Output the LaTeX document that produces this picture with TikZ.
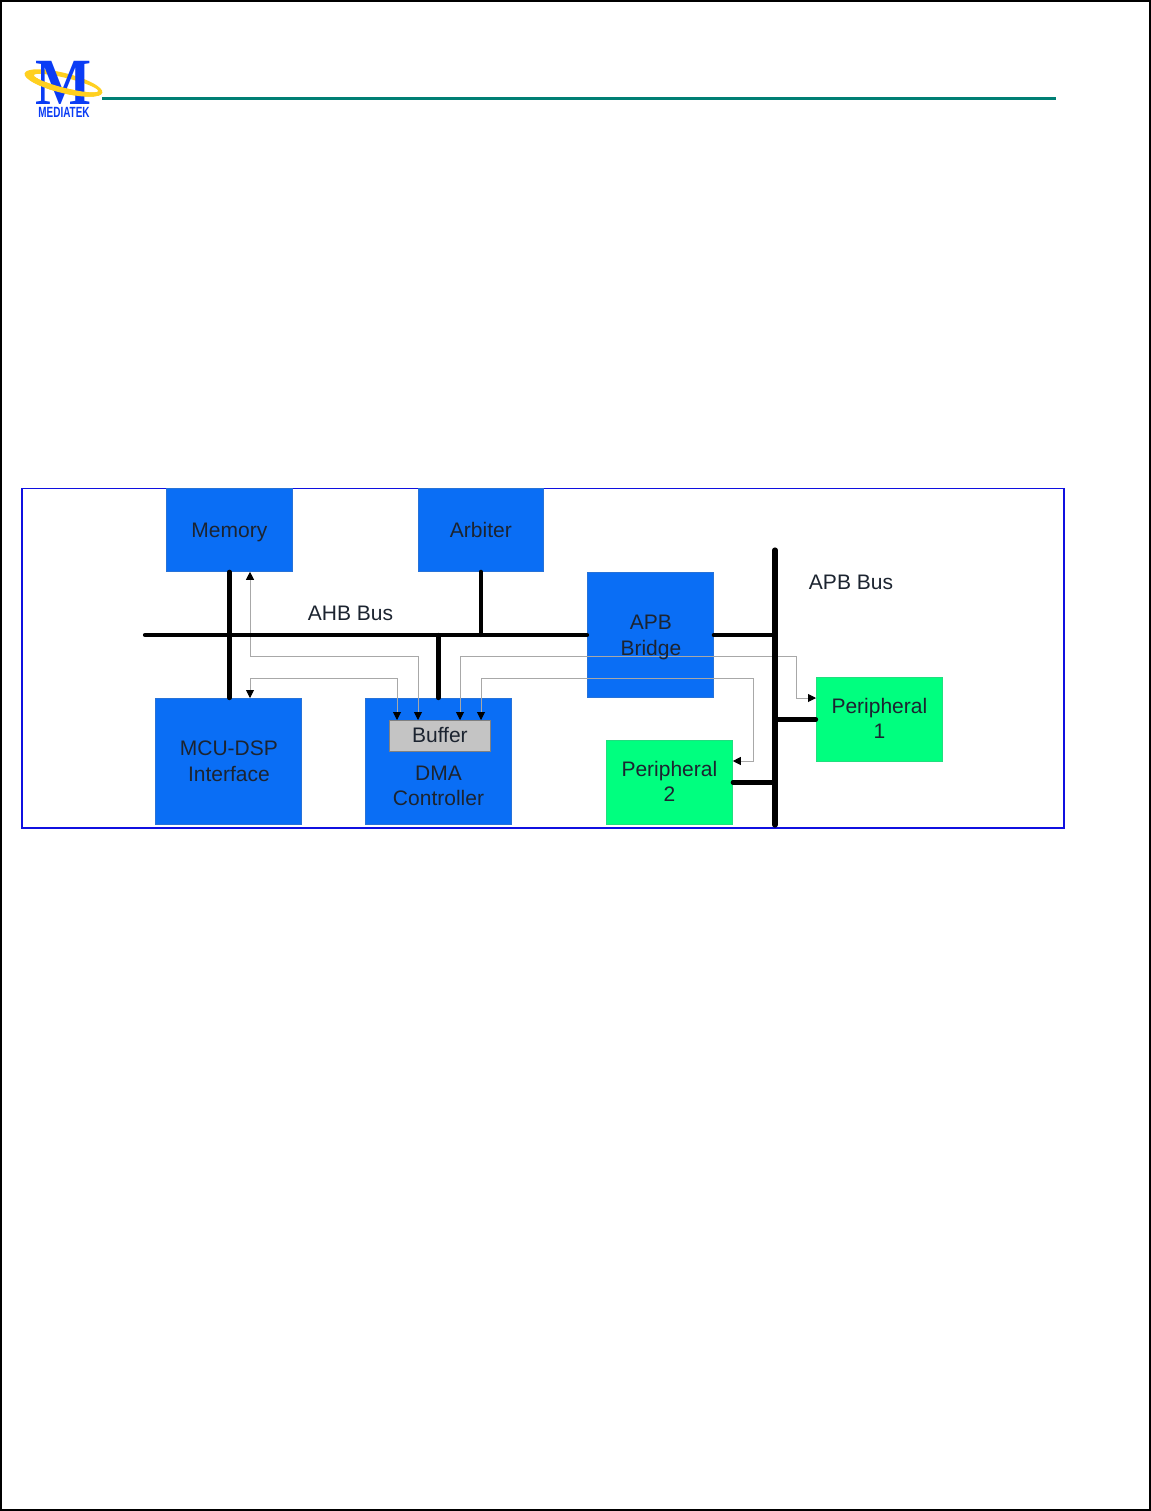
\documentclass[tikz,border=0pt]{standalone}
\usepackage{fontspec}
\usepackage{graphicx}
\setmainfont{Liberation Sans}
\newfontfamily\logoserif{Liberation Serif}
\usetikzlibrary{arrows.meta,calc}
\definecolor{boxblue}{HTML}{0A6EF5}
\definecolor{boxgreen}{HTML}{00FF7F}
\definecolor{bufgray}{HTML}{C4C4C4}
\definecolor{teal2}{HTML}{007F74}
\definecolor{framebl}{HTML}{1010E0}
\definecolor{logobl}{HTML}{0A3CF5}
\definecolor{logoye}{HTML}{FFD020}
\definecolor{thinl}{HTML}{A8A8A8}
\definecolor{txt}{HTML}{1C2430}
\tikzset{
  x=0.5pt,y=-0.5pt,
  block/.style={draw=#1!75!gray,line width=0.4pt,fill=#1,inner sep=0pt,anchor=north west,align=center,text=txt,font=\fontsize{10.5}{12.7}\selectfont},
  label/.style={text=txt,font=\fontsize{10.5}{12.7}\selectfont,inner sep=0pt},
  bus/.style={line width=2.1pt,black,line cap=round},
  apb/.style={line width=2.6pt,black,line cap=round},
  sig/.style={line width=0.45pt,draw=thinl,-{Triangle[length=4pt,width=4pt,color=black]}},
  sigboth/.style={line width=0.45pt,draw=thinl,{Triangle[length=4pt,width=4pt,color=black]}-{Triangle[length=4pt,width=4pt,color=black]}},
  ring/.style={fill=logoye,even odd rule}
}
\newcommand{\blk}[7]{\node[block=#2,minimum width=#5*0.5pt-0.5pt,minimum height=#6*0.5pt-0.5pt] (#1) at (#3,#4) {#7};}
\newcommand{\ringpath}{\fill[ring] (63.5,83) ellipse [x radius=40,y radius=10] (66,82.5) ellipse [x radius=33,y radius=5];}
\begin{document}
\begin{tikzpicture}
\useasboundingbox (0,0) rectangle (1151,1511);
\fill[white] (0,0) rectangle (1151,1511);
\draw[black,line width=1pt] (1,1) rectangle (1150,1510);
% logo
\begin{scope}[rotate around={-14:(63.5,83)}]
\ringpath
\end{scope}
\node[inner sep=0pt,text=logobl] (logoM) at (63.5,82.5) {\logoserif\fontsize{33}{33}\selectfont\bfseries\scalebox{0.9}[1]{M}};
\begin{scope}[rotate around={-14:(63.5,83)}]
\clip (15,84) rectangle (112,100);
\ringpath
\end{scope}
\node[inner sep=0pt,text=logobl] (logoT) at (64,112) {\bfseries\fontsize{7.4}{8}\selectfont\scalebox{0.67}[1]{MEDIATEK}};
\coordinate (ruleL) at (102,98.5);
\coordinate (ruleR) at (1056,98.5);
\draw[teal2,line width=1.5pt] (ruleL) -- (ruleR);
% frame
\draw[framebl,line width=0.6pt] (22,488.5) rectangle (1064,828);
% blocks
\blk{mem}{boxblue}{166}{488}{127}{84}{}
\blk{arb}{boxblue}{418}{488}{126}{84}{}
\blk{bri}{boxblue}{587}{572}{127}{126}{}
\blk{mcu}{boxblue}{155}{698}{147}{127}{}
\blk{dma}{boxblue}{365}{698}{147}{127}{}
\blk{pa}{boxgreen}{816}{677}{127}{85}{}
\blk{pb}{boxgreen}{606}{740}{127}{85}{}
\node[block=bufgray,minimum width=50.5pt,minimum height=15.5pt,draw=gray] (buf) at (389,720) {};
% bus anchor coordinates
\coordinate (ahbL) at (145,635);
\coordinate (apbT) at (775,550);
\coordinate (apbB) at (775,825);
\coordinate (xA) at (250,600);
\coordinate (xB) at (397,600);
\coordinate (xC) at (418,600);
\coordinate (xD) at (460,600);
\coordinate (xE) at (481,600);
\coordinate (yA) at (600,656.5);
\coordinate (yB) at (600,678);
\coordinate (xF) at (796,600);
\coordinate (xG) at (753,600);
\coordinate (yC) at (600,698);
\coordinate (yD) at (600,761);
% thin signal lines
\draw[sigboth] (mem.south -| xA) -- (xA |- yA) -- (xC |- yA) -- (buf.north -| xC);
\draw[sig] (xB |- yB) -- (xA |- yB) -- (mcu.north -| xA);
\draw[sig] (xB |- yB) -- (buf.north -| xB);
\draw[sig] (xD |- yA) -- (buf.north -| xD);
\draw[sig] (xE |- yB) -- (buf.north -| xE);
\draw[sig] (xD |- yA) -- (xF |- yA) -- (xF |- yC) -- (pa.west |- yC);
\draw[sig] (xE |- yB) -- (xG |- yB) -- (xG |- yD) -- (pb.east |- yD);
% buses
\draw[bus] (ahbL) -- (bri.west |- ahbL);
\draw[bus] (bri.east |- ahbL) -- (apbT |- ahbL);
\draw[apb] (apbT) -- (apbB);
\draw[bus] (mem.south) -- (mem.south |- mcu.north);
\draw[bus] (arb.south) -- (arb.south |- ahbL);
\draw[bus] (dma.north) -- (dma.north |- ahbL);
\draw[bus] (pa.west) -- (pa.west -| apbT);
\draw[bus] (pb.east) -- (pb.east -| apbT);
% text
\node[label] (tmem) at ($(mem.center)+(0,3)$) {Memory};
\node[label] (tarb) at ($(arb.center)+(0,0.5)$) {Arbiter};
\node[label,align=center] (tbri) at ($(bri.center)+(0.5,2.5)$) {APB\\Bridge};
\node[label,align=center] (tmcu) at ($(mcu.center)+(0.5,0)$) {MCU-DSP\\Interface};
\node[label] (tbuf) at ($(buf.center)+(0,-1)$) {Buffer};
\node[label,align=center] (tdma) at (438.5,786) {DMA\\Controller};
\node[label,align=center] (tpa) at ($(pa.center)+(0,-1)$) {Peripheral\\1};
\node[label,align=center] (tpb) at ($(pb.center)+(0,-1)$) {Peripheral\\2};
\node[label] (ahb) at (350.5,613.5) {AHB Bus};
\node[label] (apblab) at (851,582) {APB Bus};
\end{tikzpicture}
\end{document}
